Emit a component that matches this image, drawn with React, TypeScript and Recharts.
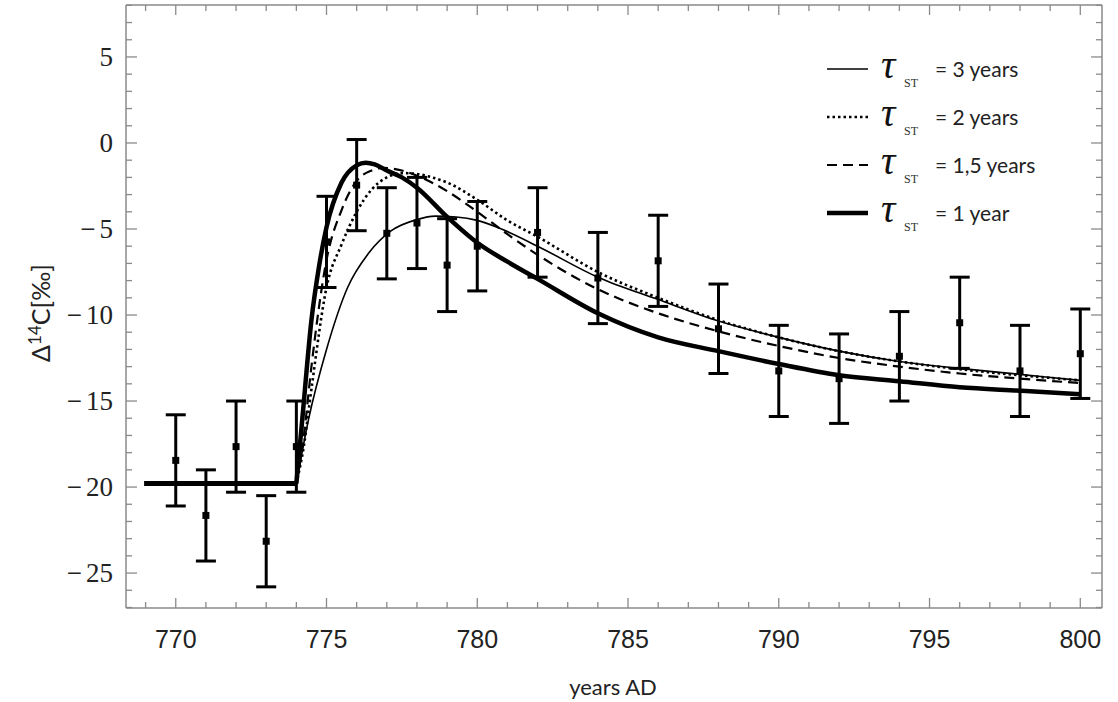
import React from 'react';
import { ComposedChart, Line, Scatter, ErrorBar, XAxis, YAxis, Legend } from 'recharts';

// ---- observed data (years AD, Δ14C in ‰, 1σ error) ----
const obsYears = [770, 771, 772, 773, 774, 775, 776, 777, 778, 779, 780, 782, 784, 786, 788, 790, 792, 794, 796, 798, 800];
const obsValues = [-18.45, -21.65, -17.65, -23.15, -17.65, -5.75, -2.45, -5.25, -4.65, -7.1, -6.0, -5.2, -7.85, -6.85, -10.8, -13.25, -13.7, -12.4, -10.45, -13.25, -12.25];
const obsErrors = [2.65, 2.65, 2.65, 2.65, 2.65, 2.65, 2.65, 2.65, 2.65, 2.7, 2.6, 2.6, 2.65, 2.65, 2.6, 2.65, 2.6, 2.6, 2.65, 2.65, 2.6];

// ---- pre-event baseline ----
const baseYears = [768.95, 774];
const baseValues = [-19.8, -19.8];

// ---- model curves ----
const tau3Years = [774, 774.4, 775, 775.7, 776.4, 777.15, 778, 778.6, 779.3, 780, 780.8, 782, 784, 786, 788, 790, 792, 794, 796, 798, 800];
const tau3Values = [-19.8, -16.1, -12.0, -8.4, -6.4, -5.1, -4.45, -4.25, -4.3, -4.5, -5.0, -6.0, -7.8, -9.1, -10.35, -11.3, -12.1, -12.7, -13.1, -13.45, -13.8];

const tau2Years = [774, 774.25, 774.5, 775, 775.5, 776, 776.5, 777, 777.5, 778, 778.5, 779, 780, 781, 782, 784, 786, 788, 790, 792, 794, 796, 798, 800];
const tau2Values = [-19.8, -17.6, -14.3, -8.4, -5.9, -4.0, -2.7, -2.0, -1.75, -1.8, -2.0, -2.3, -3.3, -4.5, -5.45, -7.5, -9.0, -10.3, -11.3, -12.1, -12.7, -13.15, -13.5, -13.8];

const tau15Years = [774, 774.25, 774.5, 775, 775.5, 776, 776.5, 776.9, 777.5, 778, 779, 780, 781, 782, 784, 786, 788, 790, 792, 794, 796, 798, 800];
const tau15Values = [-19.8, -17.0, -13.0, -6.8, -3.9, -2.2, -1.6, -1.45, -1.6, -1.9, -2.8, -4.0, -5.3, -6.5, -8.5, -9.9, -10.95, -11.8, -12.5, -13.0, -13.4, -13.7, -13.95];

const tau1Years = [774, 774.2, 774.5, 774.75, 775, 775.5, 776, 776.3, 776.6, 777, 777.5, 778, 779, 780, 781, 782, 784, 786, 788, 790, 792, 794, 796, 798, 800];
const tau1Values = [-19.8, -16.0, -10.3, -7.2, -4.9, -2.3, -1.3, -1.15, -1.25, -1.6, -2.0, -2.6, -4.3, -5.8, -6.9, -7.9, -9.9, -11.3, -12.1, -12.85, -13.5, -13.85, -14.2, -14.4, -14.6];

// ---- axes ----
const xTicks = [769, 770, 771, 772, 773, 774, 775, 776, 777, 778, 779, 780, 781, 782, 783, 784, 785, 786, 787, 788, 789, 790, 791, 792, 793, 794, 795, 796, 797, 798, 799, 800];
const xLabelTicks = [770, 775, 780, 785, 790, 795, 800];
const yTicks = [-27, -26, -25, -24, -23, -22, -21, -20, -19, -18, -17, -16, -15, -14, -13, -12, -11, -10, -9, -8, -7, -6, -5, -4, -3, -2, -1, 0, 1, 2, 3, 4, 5, 6, 7, 8];
const yLabelTicks = [-25, -20, -15, -10, -5, 0, 5];
const xDomain = [768.35, 800.72];
const yDomain = [-27.03, 8.02];

// ---- legend ----
const legendLabels = ['= 3 years', '= 2 years', '= 1,5 years', '= 1 year'];

const toPoints = (xs: number[], ys: number[]) => xs.map((x, i) => ({ x, y: ys[i] }));

const obsData = obsYears.map((x, i) => ({ x, y: obsValues[i], err: obsErrors[i] }));
const baseData = toPoints(baseYears, baseValues);
const tau3Data = toPoints(tau3Years, tau3Values);
const tau2Data = toPoints(tau2Years, tau2Values);
const tau15Data = toPoints(tau15Years, tau15Values);
const tau1Data = toPoints(tau1Years, tau1Values);

const FRAME = '#8a8a8a';
const SERIF = '"Liberation Serif", "Times New Roman", "DejaVu Serif", serif';
const SANS = 'Lato, "Open Sans", sans-serif';
const NARROW = '"Liberation Sans Narrow", "Liberation Sans", Arial, sans-serif';

const seriesStyles = [
  { w: 1.6, dash: undefined as string | undefined },
  { w: 2.6, dash: '2.5 3' },
  { w: 2.2, dash: '10 6' },
  { w: 4.5, dash: undefined as string | undefined },
];

const BottomTick = (props: any) => {
  const { x, y, payload } = props;
  const v = payload.value;
  const major = xLabelTicks.includes(v);
  return (
    <g>
      <line x1={x} x2={x} y1={y} y2={y - (major ? 10 : 6)} stroke={FRAME} strokeWidth={1.3} />
      {major && (
        <text x={x} y={y + 40} textAnchor="middle" style={{ fontFamily: NARROW, fontSize: 25 }} fill="#222">
          {v}
        </text>
      )}
    </g>
  );
};

const TopTick = (props: any) => {
  const { x, y, payload } = props;
  const major = xLabelTicks.includes(payload.value);
  return <line x1={x} x2={x} y1={y} y2={y + (major ? 10 : 6)} stroke={FRAME} strokeWidth={1.3} />;
};

const LeftTick = (props: any) => {
  const { x, y, payload } = props;
  const v = payload.value;
  const major = yLabelTicks.includes(v);
  return (
    <g>
      <line x1={x} x2={x + (major ? 11 : 6)} y1={y} y2={y} stroke={FRAME} strokeWidth={1.3} />
      {major && (
        <text x={x - 13} y={y + 9} textAnchor="end" style={{ fontFamily: SERIF, fontSize: 27 }} fill="#222">
          {v < 0 ? '\u2212' : ''}
          <tspan dx={v < 0 ? 4 : 0}>{Math.abs(v)}</tspan>
        </text>
      )}
    </g>
  );
};

const RightTick = (props: any) => {
  const { x, y, payload } = props;
  const major = yLabelTicks.includes(payload.value);
  return <line x1={x} x2={x - (major ? 11 : 6)} y1={y} y2={y} stroke={FRAME} strokeWidth={1.3} />;
};

const YTitle = () => (
  <text transform="translate(50,313) rotate(-90)" x={0} y={0} textAnchor="middle" style={{ fontFamily: SANS, fontSize: 25 }} fill="#222">
    Δ<tspan dy={-9} style={{ fontSize: 17 }}>14</tspan>
    <tspan dy={9}>C[‰]</tspan>
  </text>
);

const XTitle = () => (
  <text x={613} y={695} textAnchor="middle" style={{ fontFamily: SANS, fontSize: 22 }} fill="#222">
    years AD
  </text>
);

const LegendContent = () => (
  <svg width={290} height={200} style={{ display: 'block', overflow: 'visible' }}>
    {legendLabels.map((lab, i) => {
      const cy = 29 + i * 48;
      const st = seriesStyles[i];
      return (
        <g key={lab}>
          <line x1={7} x2={48} y1={cy} y2={cy} stroke="#000" strokeWidth={st.w} strokeDasharray={st.dash} />
          <text x={61} y={cy + 9} style={{ fontFamily: SERIF, fontStyle: 'italic', fontSize: 40 }} fill="#111">
            τ
          </text>
          <text x={84} y={cy + 18} style={{ fontFamily: SERIF, fontSize: 12 }} fill="#333">
            ST
          </text>
          <text x={115} y={cy + 8} style={{ fontFamily: SANS, fontSize: 21 }} fill="#222">
            {lab}
          </text>
        </g>
      );
    })}
  </svg>
);

const SquareDot = (props: any) => {
  const { cx, cy } = props;
  if (cx == null || cy == null) return null;
  return <rect x={cx - 3.5} y={cy - 3.5} width={7} height={7} fill="#000" />;
};

export default function App() {
  return (
    <div style={{ position: 'absolute', left: 0, top: 0, background: '#fff' }}>
      <ComposedChart width={1118} height={702} margin={{ top: 4, right: 15, bottom: 34, left: 66 }}>
        <XAxis
          xAxisId="b"
          dataKey="x"
          type="number"
          domain={xDomain}
          allowDataOverflow
          ticks={xTicks}
          interval={0}
          tickSize={0}
          tickMargin={0}
          tickLine={false}
          axisLine={{ stroke: FRAME, strokeWidth: 1.5 }}
          tick={(p: any) => <BottomTick {...p} />}
          height={60}
          label={<XTitle />}
        />
        <XAxis
          xAxisId="t"
          orientation="top"
          dataKey="x"
          type="number"
          domain={xDomain}
          allowDataOverflow
          ticks={xTicks}
          interval={0}
          tickSize={0}
          tickMargin={0}
          tickLine={false}
          axisLine={{ stroke: FRAME, strokeWidth: 1.5 }}
          tick={(p: any) => <TopTick {...p} />}
          height={1}
        />
        <YAxis
          yAxisId="l"
          type="number"
          domain={yDomain}
          allowDataOverflow
          ticks={yTicks}
          interval={0}
          tickSize={0}
          tickMargin={0}
          tickLine={false}
          axisLine={{ stroke: FRAME, strokeWidth: 1.5 }}
          tick={(p: any) => <LeftTick {...p} />}
          width={60}
          label={<YTitle />}
        />
        <YAxis
          yAxisId="r"
          orientation="right"
          type="number"
          domain={yDomain}
          allowDataOverflow
          ticks={yTicks}
          interval={0}
          tickSize={0}
          tickMargin={0}
          tickLine={false}
          axisLine={{ stroke: FRAME, strokeWidth: 1.5 }}
          tick={(p: any) => <RightTick {...p} />}
          width={1}
        />
        <Legend
          layout="vertical"
          align="center"
          verticalAlign="middle"
          content={<LegendContent />}
          wrapperStyle={{ left: 820, top: 40, width: 290, height: 200 }}
        />
        <Line xAxisId="t" yAxisId="r" data={baseData} dataKey="y" type="linear" stroke="none" strokeWidth={0} dot={false} activeDot={false} isAnimationActive={false} legendType="none" />
        <Line xAxisId="b" yAxisId="l" data={baseData} dataKey="y" type="linear" stroke="#000" strokeWidth={5} dot={false} activeDot={false} isAnimationActive={false} legendType="none" />
        <Line xAxisId="b" yAxisId="l" data={tau3Data} dataKey="y" type="monotone" stroke="#000" strokeWidth={seriesStyles[0].w} dot={false} activeDot={false} isAnimationActive={false} />
        <Line xAxisId="b" yAxisId="l" data={tau2Data} dataKey="y" type="monotone" stroke="#000" strokeWidth={seriesStyles[1].w} strokeDasharray={seriesStyles[1].dash} dot={false} activeDot={false} isAnimationActive={false} />
        <Line xAxisId="b" yAxisId="l" data={tau15Data} dataKey="y" type="monotone" stroke="#000" strokeWidth={seriesStyles[2].w} strokeDasharray={seriesStyles[2].dash} dot={false} activeDot={false} isAnimationActive={false} />
        <Line xAxisId="b" yAxisId="l" data={tau1Data} dataKey="y" type="monotone" stroke="#000" strokeWidth={seriesStyles[3].w} dot={false} activeDot={false} isAnimationActive={false} />
        <Scatter xAxisId="b" yAxisId="l" data={obsData} dataKey="y" shape={(p: any) => <SquareDot {...p} />} isAnimationActive={false}>
          <ErrorBar dataKey="err" direction="y" width={10} stroke="#000" strokeWidth={3} isAnimationActive={false} />
        </Scatter>
      </ComposedChart>
    </div>
  );
}
